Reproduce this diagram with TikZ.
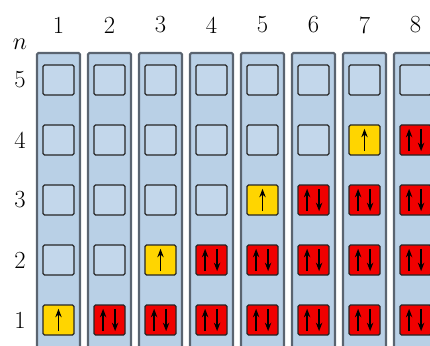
\documentclass[tikz,border=0pt]{standalone}
\usepackage{xcolor}
\usepackage{tikz}
\usetikzlibrary{arrows.meta}
\definecolor{orbblue}{HTML}{B9D0E6}
\definecolor{orbfill}{HTML}{C3D7EB}
\definecolor{orbyellow}{HTML}{FFD500}
\definecolor{orbred}{HTML}{F00000}
\definecolor{orbedge}{HTML}{5A6470}

\tikzset{
  orbital/.style={draw=black!85,line width=0.9pt,rounded corners=1pt,minimum width=0.775cm,minimum height=0.75cm,inner sep=0pt,fill=orbfill},
  half/.style={orbital,fill=orbyellow},
  full/.style={orbital,fill=orbred},
  spin/.style={line width=1.3pt,-{Stealth[length=6pt,width=4.5pt]}},
}

\begin{document}
\begin{tikzpicture}[x=1.275cm,y=1.5cm,font=\fontsize{17.5}{20}\selectfont]
  \useasboundingbox (-1.1471,-0.4167) rectangle (7.2843,5.3333);
  % columns and their numbers
  \foreach \k in {1,...,8} {
    \filldraw[fill=orbblue,draw=orbedge,line width=1.5pt,rounded corners=1pt] (\k-1.4216,-0.8) rectangle (\k-0.5784,4.45);
    \node (top-\k) at (\k-1,4.917) {\k};
  }
  % row labels
  \node (nlab) at (-0.755,4.6) {$n$};
  \foreach \n in {1,...,5}
    \node (row-\n) at (-0.755,\n-1) {\n};
  % orbitals: 2 = full, 1 = half, else empty
  \foreach \k in {1,...,8}
    \foreach \n in {1,...,5} {
      \pgfmathtruncatemacro\state{\k-2*\n+2}
      \ifnum\state>1
        \node[full] (o-\k-\n) at (\k-1,\n-1) {};
        \draw[spin] ([xshift=-0.16cm,yshift=-0.28cm]o-\k-\n.center) -- ([xshift=-0.16cm,yshift=0.28cm]o-\k-\n.center);
        \draw[spin] ([xshift=0.14cm,yshift=0.28cm]o-\k-\n.center) -- ([xshift=0.14cm,yshift=-0.28cm]o-\k-\n.center);
      \else\ifnum\state=1
        \node[half] (o-\k-\n) at (\k-1,\n-1) {};
        \draw[spin] ([yshift=-0.28cm]o-\k-\n.center) -- ([yshift=0.28cm]o-\k-\n.center);
      \else
        \node[orbital] (o-\k-\n) at (\k-1,\n-1) {};
      \fi\fi
    }
\end{tikzpicture}
\end{document}
